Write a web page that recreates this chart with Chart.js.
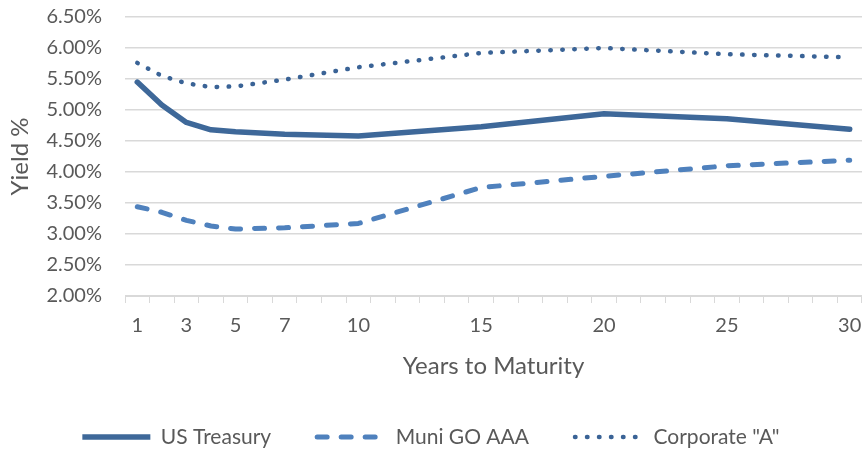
<!DOCTYPE html>
<html>
<head>
<meta charset="utf-8">
<script src="https://cdn.jsdelivr.net/npm/chart.js@4"></script>
<style>
  body { margin: 0; background: #ffffff; }
  canvas { display: block; }
</style>
</head>
<body>
<canvas id="chartYield" width="862" height="450"></canvas>
<script>
const years = ["1", "2", "3", "4", "5", "6", "7", "8", "9", "10",
  "11", "12", "13", "14", "15", "16", "17", "18", "19", "20",
  "21", "22", "23", "24", "25", "26", "27", "28", "29", "30"];

const tickLabels = ["1", "3", "5", "7", "10", "15", "20", "25", "30"];

// yields in %, null where the curve has no point
const usTreasury = [5.45, 5.08, 4.80, 4.68, 4.65, null, 4.61, null, null, 4.58,
  null, null, null, null, 4.73, null, null, null, null, 4.94,
  null, null, null, null, 4.86, null, null, null, null, 4.69];

const muniGoAaa = [3.44, 3.35, 3.22, 3.13, 3.08, null, 3.10, null, null, 3.17,
  null, null, null, null, 3.75, null, null, null, null, 3.93,
  null, null, null, null, 4.10, null, null, null, null, 4.19];

const corporateA = [5.76, 5.55, 5.43, 5.37, 5.38, null, 5.49, null, null, 5.69,
  null, null, null, null, 5.92, null, null, null, null, 6.00,
  null, null, null, null, 5.90, null, null, null, null, 5.85];

const yTicks = [2.0, 2.5, 3.0, 3.5, 4.0, 4.5, 5.0, 5.5, 6.0, 6.5];

document.addEventListener("DOMContentLoaded", function () {
  const textColor = "#595959";
  const gridColor = "#d9d9d9";
  const fontFamily = "Lato, 'Open Sans', sans-serif";

  const canvas = document.getElementById("chartYield");

  new Chart(canvas, {
    type: "line",
    data: {
      labels: years,
      datasets: [
        {
          label: "US Treasury",
          data: usTreasury,
          borderColor: "#3e6899",
          borderWidth: 5.5,
          borderCapStyle: "round",
          borderJoinStyle: "round",
          borderDash: [],
        },
        {
          label: "Muni GO AAA",
          data: muniGoAaa,
          borderColor: "#4f81bd",
          borderWidth: 5,
          borderCapStyle: "round",
          borderJoinStyle: "round",
          borderDash: [10, 14],
        },
        {
          label: 'Corporate "A"',
          data: corporateA,
          borderColor: "#3a6396",
          borderWidth: 4.5,
          borderCapStyle: "round",
          borderJoinStyle: "round",
          borderDash: [0.5, 11.5],
        },
      ],
    },
    options: {
      responsive: false,
      animation: false,
      devicePixelRatio: 1,
      spanGaps: true,
      layout: {
        padding: { top: 0, right: 0, bottom: -7.5, left: 0 },
      },
      elements: {
        point: { radius: 0, hoverRadius: 0 },
        line: { tension: 0, fill: false },
      },
      plugins: {
        tooltip: { enabled: false },
        legend: {
          position: "bottom",
          labels: {
            usePointStyle: true,
            pointStyleWidth: 68,
            padding: 46,
            color: textColor,
            font: { family: fontFamily, size: 21 },
            generateLabels: function (chart) {
              return chart.data.datasets.map(function (ds, i) {
                return {
                  text: ds.label,
                  fillStyle: "rgba(0,0,0,0)",
                  strokeStyle: ds.borderColor,
                  lineWidth: ds.borderWidth,
                  lineDash: ds.borderDash,
                  lineCap: ds.borderDash.length ? "round" : "butt",
                  pointStyle: "line",
                  fontColor: textColor,
                  hidden: false,
                  datasetIndex: i,
                };
              });
            },
          },
        },
      },
      scales: {
        x: {
          type: "category",
          offset: true,
          afterFit: function (scale) {
            scale.height = 84.5;
            scale.paddingLeft = 0;
            scale.paddingRight = 0;
          },
          grid: {
            offset: true,
            drawOnChartArea: false,
            drawTicks: true,
            tickLength: 7,
            color: gridColor,
          },
          border: { display: true, color: gridColor, width: 1 },
          ticks: {
            autoSkip: false,
            maxRotation: 0,
            padding: 11,
            color: textColor,
            font: { family: fontFamily, size: 20 },
            callback: function (value) {
              const label = this.getLabelForValue(value);
              return tickLabels.includes(label) ? label : "";
            },
          },
          title: {
            display: true,
            text: "Years to Maturity",
            color: textColor,
            font: { family: fontFamily, size: 24 },
            padding: { top: 0, bottom: 0 },
          },
        },
        y: {
          min: 2,
          max: 6.5,
          afterFit: function (scale) {
            scale.width = 125;
            scale.paddingTop = 17;
          },
          afterBuildTicks: function (scale) {
            scale.ticks = yTicks.map(function (v) {
              return { value: v };
            });
          },
          grid: {
            drawTicks: false,
            color: gridColor,
            lineWidth: 1.5,
          },
          border: { display: false },
          ticks: {
            padding: 23,
            color: textColor,
            font: { family: fontFamily, size: 20 },
            callback: function (value) {
              return Number(value).toFixed(2) + "%";
            },
          },
          title: {
            display: true,
            text: "Yield %",
            color: textColor,
            font: { family: fontFamily, size: 24 },
            padding: { top: 6, bottom: 0 },
          },
        },
      },
    },
  });
});
</script>
</body>
</html>
